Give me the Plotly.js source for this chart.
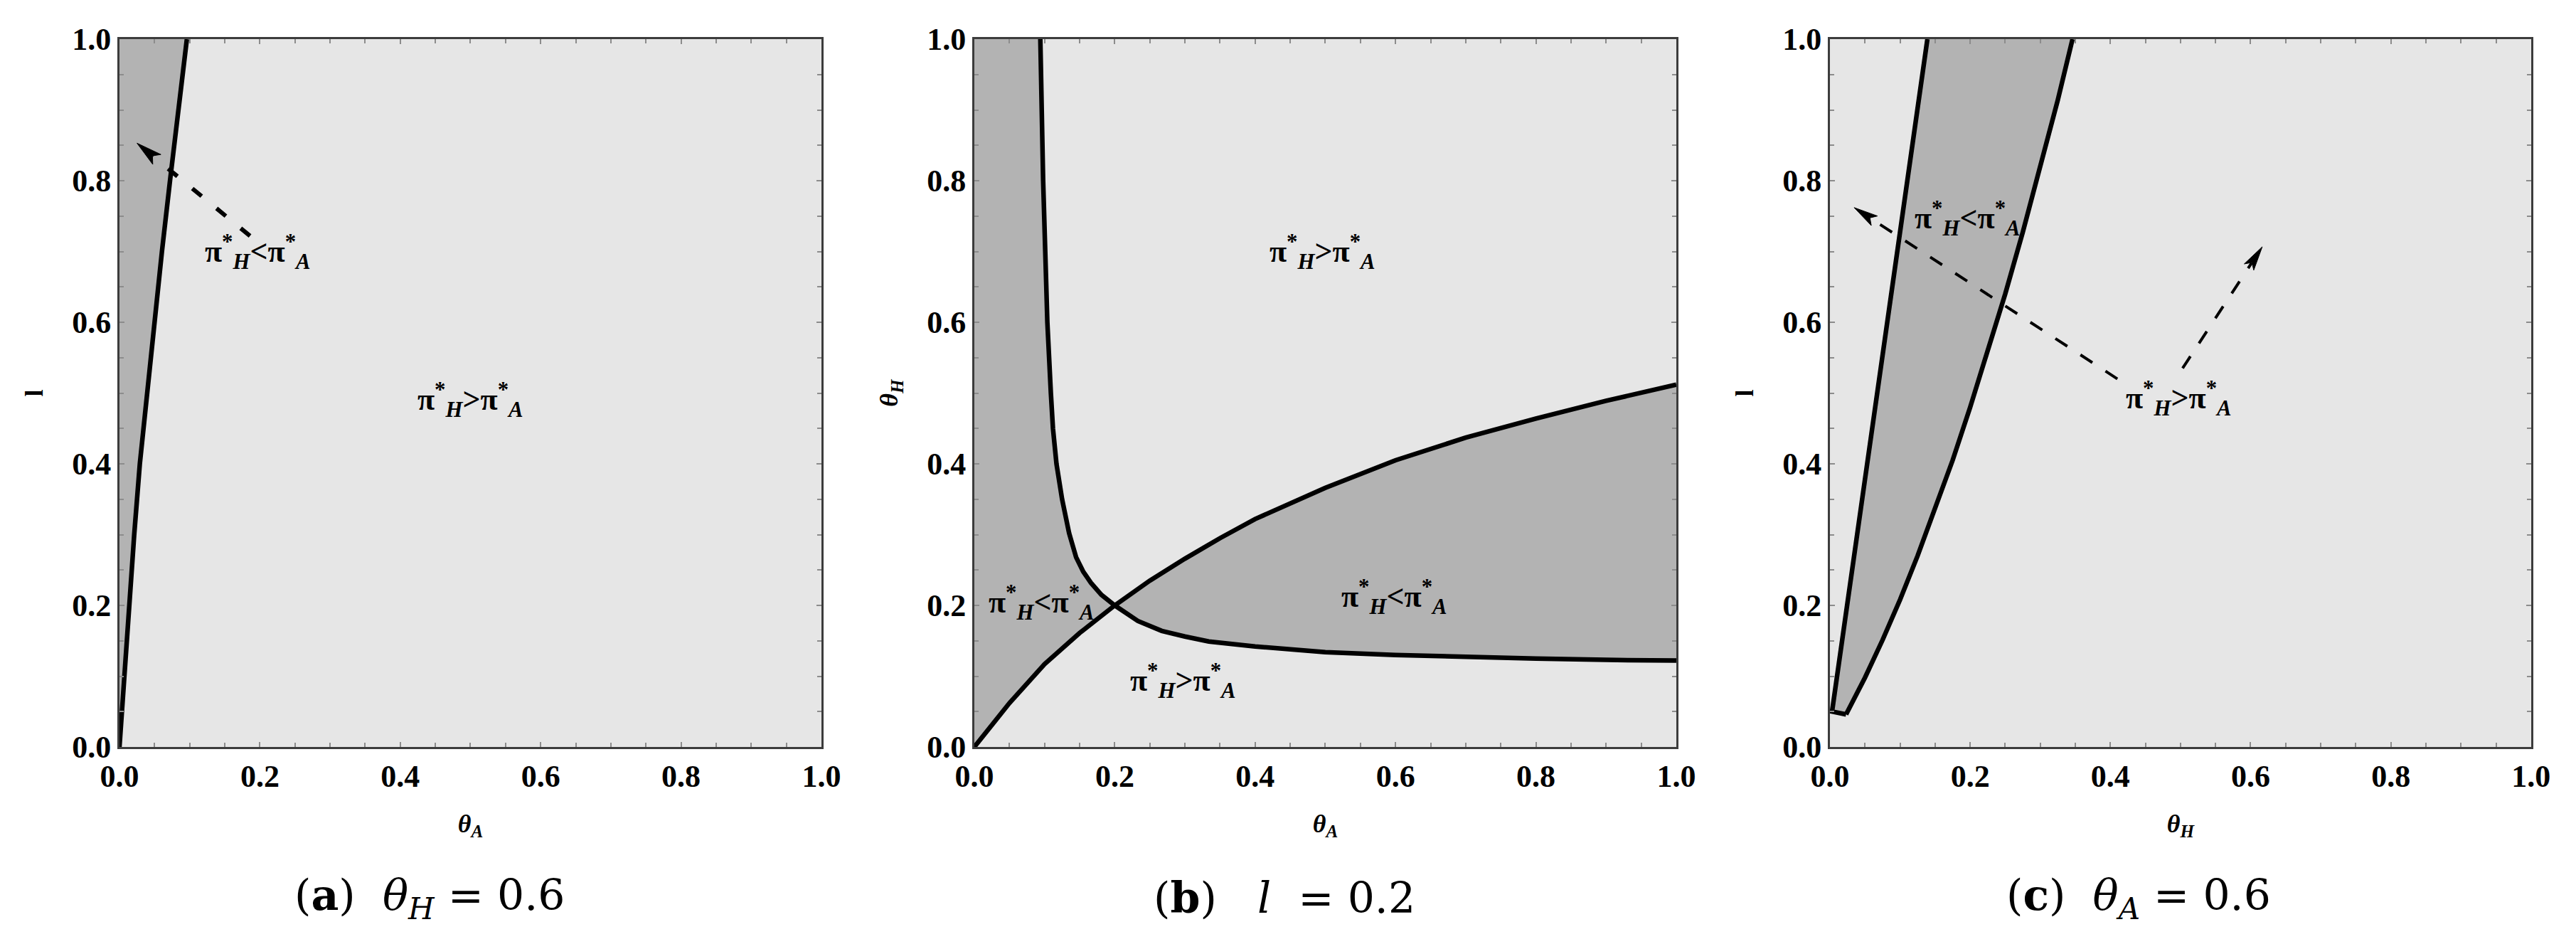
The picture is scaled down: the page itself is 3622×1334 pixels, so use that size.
<!DOCTYPE html>
<html><head><meta charset="utf-8">
<script src="https://cdn.plot.ly/plotly-3.0.1.min.js"></script>
<style>html,body{margin:0;padding:0;background:#fff}</style>
</head><body><div id="chart" style="width:3622px;height:1334px"></div>
<script>
// ---------- Panel (a): theta_H = 0.6 ; x = theta_A, y = l ----------
const a_boundary_thetaA = [0, 0.0065, 0.0135, 0.021, 0.029, 0.039, 0.0495, 0.0605, 0.072, 0.084, 0.096];
const a_boundary_l      = [0, 0.1, 0.2, 0.3, 0.4, 0.5, 0.6, 0.7, 0.8, 0.9, 1.0];
const a_arrow_x = [0.186, 0.025];
const a_arrow_y = [0.722, 0.853];

// ---------- Panel (b): l = 0.2 ; x = theta_A, y = theta_H ----------
const b_curve1_thetaA = [0.094, 0.0955, 0.098, 0.101, 0.104, 0.109, 0.112, 0.117, 0.125, 0.135, 0.145, 0.155, 0.166, 0.181, 0.2, 0.233, 0.267, 0.3, 0.334, 0.4, 0.436, 0.5, 0.6, 0.7, 0.8, 0.9, 1.0];
const b_curve1_thetaH = [1.0, 0.9, 0.8, 0.7, 0.6, 0.5, 0.45, 0.4, 0.35, 0.302, 0.268, 0.248, 0.232, 0.215, 0.2, 0.178, 0.164, 0.156, 0.149, 0.142, 0.139, 0.134, 0.130, 0.127, 0.125, 0.123, 0.122];
const b_curve2_thetaA = [0, 0.05, 0.1, 0.15, 0.2, 0.25, 0.3, 0.35, 0.4, 0.5, 0.6, 0.7, 0.8, 0.9, 1.0];
const b_curve2_thetaH = [0, 0.062, 0.117, 0.161, 0.2, 0.235, 0.266, 0.295, 0.322, 0.366, 0.405, 0.437, 0.464, 0.489, 0.512];

// ---------- Panel (c): theta_A = 0.6 ; x = theta_H, y = l ----------
const c_left_thetaH  = [0.003, 0.139];
const c_left_l       = [0.050, 1.0];
const c_right_thetaH = [0.023, 0.05, 0.075, 0.1, 0.125, 0.15, 0.175, 0.2, 0.225, 0.25, 0.275, 0.3, 0.325, 0.346];
const c_right_l      = [0.046, 0.098, 0.151, 0.208, 0.270, 0.336, 0.405, 0.480, 0.559, 0.640, 0.727, 0.818, 0.914, 1.0];
const c_arrow1_x = [0.41, 0.0345];
const c_arrow1_y = [0.52, 0.762];
const c_arrow2_x = [0.503, 0.6166];
const c_arrow2_y = [0.535, 0.7066];

// ---------- Region labels ----------
const LT = 'π<sup>*</sup><sub><i>H</i></sub>&lt;π<sup>*</sup><sub><i>A</i></sub>';
const GT = 'π<sup>*</sup><sub><i>H</i></sub>&gt;π<sup>*</sup><sub><i>A</i></sub>';
const labels = [
  {panel: 1, text: LT, x: 0.197, y: 0.700},
  {panel: 1, text: GT, x: 0.500, y: 0.490},
  {panel: 2, text: GT, x: 0.496, y: 0.700},
  {panel: 2, text: LT, x: 0.096, y: 0.204},
  {panel: 2, text: LT, x: 0.598, y: 0.212},
  {panel: 2, text: GT, x: 0.297, y: 0.093},
  {panel: 3, text: LT, x: 0.196, y: 0.747},
  {panel: 3, text: GT, x: 0.498, y: 0.492}
];
const captions = [
  '(<b>a</b>)\u00a0\u00a0<i>θ</i><sub><i>H</i></sub>\u00a0=\u00a00.6',
  '(<b>b</b>)\u00a0\u00a0\u00a0<i>l</i>\u00a0\u00a0=\u00a00.2',
  '(<b>c</b>)\u00a0\u00a0<i>θ</i><sub><i>A</i></sub>\u00a0=\u00a00.6'
];
const xTitles = ['<i>θ</i><sub><i>A</i></sub>', '<i>θ</i><sub><i>A</i></sub>', '<i>θ</i><sub><i>H</i></sub>'];
const yTitles = ['l', '<i>θ</i><sub><i>H</i></sub>', 'l'];

// ---------- styling / layout constants ----------
const DARK = '#b3b3b3', LIGHT = '#e6e6e6';
const SERIF = 'Liberation Serif';
const PW = 987, PH = 995; // plot-area size in px (used to shape arrowheads)

function ax(k) { return k > 1 ? String(k) : ''; }
function rev(a) { return a.slice().reverse(); }
function fillTrace(xs, ys, k) {
  return {type: 'scatter', mode: 'lines', x: xs, y: ys, fill: 'toself', fillcolor: DARK,
          line: {width: 0, color: DARK}, hoverinfo: 'skip', xaxis: 'x' + ax(k), yaxis: 'y' + ax(k)};
}
function lineTrace(xs, ys, k) {
  return {type: 'scatter', mode: 'lines', x: xs, y: ys, line: {width: 6.5, color: '#000'},
          hoverinfo: 'skip', xaxis: 'x' + ax(k), yaxis: 'y' + ax(k)};
}
// dashed arrow: a dashed shaft plus a filled narrow arrowhead at the tip
function arrowTraces(xs, ys, k, w, dash, L, hw) {
  const tx = xs[1], ty = ys[1], sx = xs[0], sy = ys[0];
  let dx = (sx - tx) * PW, dy = (sy - ty) * PH;
  const len = Math.hypot(dx, dy); dx /= len; dy /= len;
  const nx = -dy, ny = dx;
  const pts = [[0, 0], [L * dx + hw * nx, L * dy + hw * ny], [0.78 * L * dx, 0.78 * L * dy],
               [L * dx - hw * nx, L * dy - hw * ny], [0, 0]];
  const head = {type: 'scatter', mode: 'lines', x: pts.map(p => tx + p[0] / PW), y: pts.map(p => ty + p[1] / PH),
                fill: 'toself', fillcolor: '#000', line: {width: 1, color: '#000'}, hoverinfo: 'skip',
                xaxis: 'x' + ax(k), yaxis: 'y' + ax(k)};
  const shaft = {type: 'scatter', mode: 'lines', x: [sx, tx + 0.8 * L * dx / PW], y: [sy, ty + 0.8 * L * dy / PH],
                 line: {width: w, color: '#000', dash: dash}, hoverinfo: 'skip', xaxis: 'x' + ax(k), yaxis: 'y' + ax(k)};
  return [shaft, head];
}

// split panel-b curves at the crossing point (0.2, 0.2)
const i1 = b_curve1_thetaA.indexOf(0.2);
const i2 = b_curve2_thetaA.indexOf(0.2);
const c1Up = {x: b_curve1_thetaA.slice(0, i1 + 1), y: b_curve1_thetaH.slice(0, i1 + 1)};
const c1Lo = {x: b_curve1_thetaA.slice(i1), y: b_curve1_thetaH.slice(i1)};
const c2Lo = {x: b_curve2_thetaA.slice(0, i2 + 1), y: b_curve2_thetaH.slice(0, i2 + 1)};
const c2Up = {x: b_curve2_thetaA.slice(i2), y: b_curve2_thetaH.slice(i2)};

const traces = [].concat(
  // panel a
  [fillTrace([].concat(a_boundary_thetaA, [0]), [].concat(a_boundary_l, [1]), 1),
   lineTrace(a_boundary_thetaA, a_boundary_l, 1)],
  arrowTraces(a_arrow_x, a_arrow_y, 1, 6, '17px,27px', 36, 9),
  // panel b
  [fillTrace([].concat(c2Lo.x, rev(c1Up.x), [0]), [].concat(c2Lo.y, rev(c1Up.y), [1]), 2),
   fillTrace([].concat(c2Up.x, rev(c1Lo.x)), [].concat(c2Up.y, rev(c1Lo.y)), 2),
   lineTrace(b_curve1_thetaA, b_curve1_thetaH, 2),
   lineTrace(b_curve2_thetaA, b_curve2_thetaH, 2)],
  // panel c
  [fillTrace([].concat(c_left_thetaH, rev(c_right_thetaH)), [].concat(c_left_l, rev(c_right_l)), 3),
   lineTrace([c_right_thetaH[0]].concat(c_left_thetaH), [c_right_l[0]].concat(c_left_l), 3),
   lineTrace(c_right_thetaH, c_right_l, 3)],
  arrowTraces(c_arrow1_x, c_arrow1_y, 3, 4, '20px,22px', 34, 8),
  arrowTraces(c_arrow2_x, c_arrow2_y, 3, 4, '20px,22px', 34, 8)
);

const xDomains = [[0.04638, 0.31888], [0.37824, 0.65074], [0.71038, 0.98255]];
const yDomain = [0.21289, 0.95877];

function axis(domain, anchor, title) {
  return {
    domain: domain, anchor: anchor, range: [0, 1],
    showline: true, linewidth: 3, linecolor: '#3c3c3c', mirror: 'allticks',
    ticks: 'inside', ticklen: 7, tickwidth: 2, tickcolor: '#8c8c8c',
    tick0: 0, dtick: 0.2, tickformat: '.1f',
    minor: {dtick: 0.05, ticks: 'inside', ticklen: 6, tickwidth: 2, tickcolor: '#8c8c8c', showgrid: false},
    showgrid: false, zeroline: false, fixedrange: true,
    tickfont: {family: SERIF, size: 44, weight: 'bold', color: '#000'},
    title: {text: title, font: {family: SERIF, size: 36, weight: 'bold', color: '#000'}, standoff: 30}
  };
}

const layout = {
  width: 3622, height: 1334,
  margin: {l: 0, r: 0, t: 0, b: 0},
  paper_bgcolor: '#ffffff', plot_bgcolor: LIGHT,
  showlegend: false,
  font: {family: SERIF, color: '#000'},
  annotations: []
};
for (let k = 1; k <= 3; k++) {
  layout['xaxis' + ax(k)] = axis(xDomains[k - 1], 'y' + ax(k), xTitles[k - 1]);
  layout['yaxis' + ax(k)] = axis(yDomain, 'x' + ax(k), yTitles[k - 1]);
}
labels.forEach(function (L) {
  layout.annotations.push({xref: 'x' + ax(L.panel), yref: 'y' + ax(L.panel), x: L.x, y: L.y, text: L.text, showarrow: false,
    xanchor: 'center', yanchor: 'middle', font: {family: SERIF, size: 44, weight: 'bold', color: '#000'}});
});
const capX = [604 / 3622, 1806 / 3622, 3007 / 3622];
captions.forEach(function (c, i) {
  layout.annotations.push({xref: 'paper', yref: 'paper', x: capX[i], y: 1 - 1262 / 1334, text: c, showarrow: false,
    xanchor: 'center', yanchor: 'middle', font: {family: 'DejaVu Serif', size: 60, color: '#000'}});
});

Plotly.newPlot('chart', traces, layout, {staticPlot: true, displayModeBar: false});
</script>
</body></html>
